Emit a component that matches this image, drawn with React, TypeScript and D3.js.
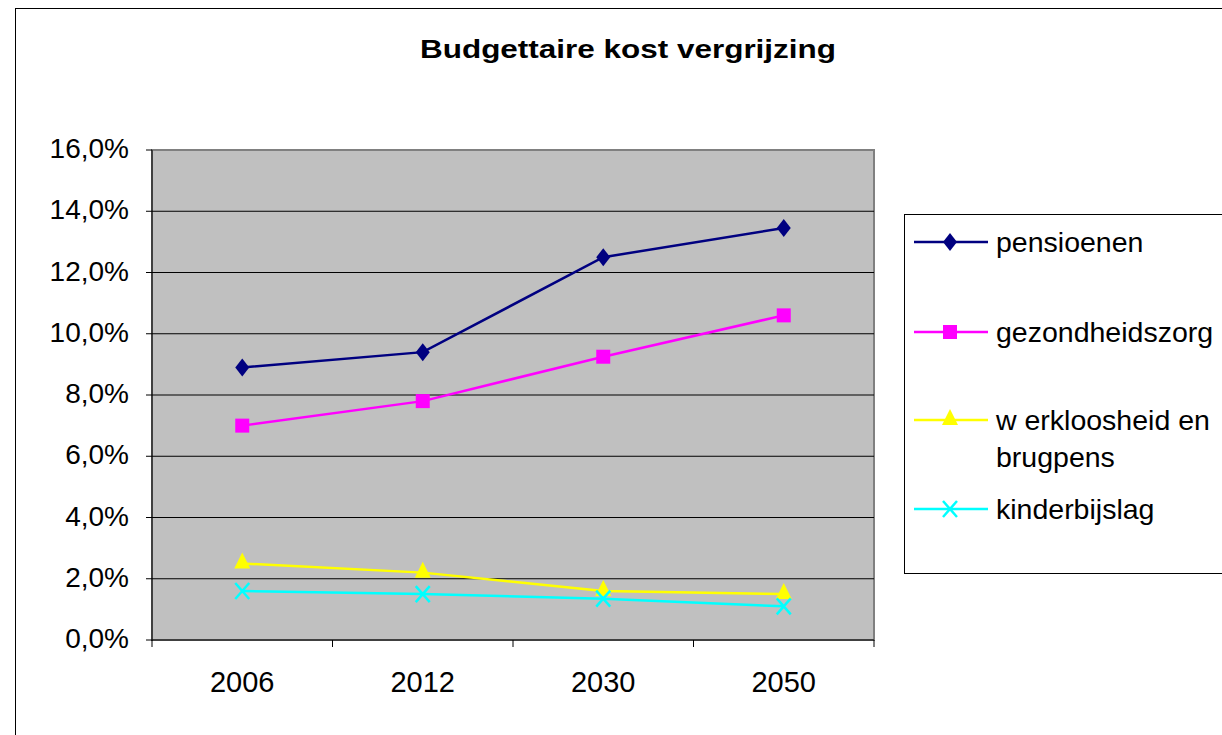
import React from 'react';
import * as d3 from 'd3';

const years = ['2006', '2012', '2030', '2050'];
const pensioenen = [8.9, 9.4, 12.5, 13.45];
const gezondheidszorg = [7.0, 7.8, 9.25, 10.6];
const werkloosheid = [2.5, 2.2, 1.6, 1.5];
const kinderbijslag = [1.6, 1.5, 1.35, 1.1];
const yTicks = [0, 2, 4, 6, 8, 10, 12, 14, 16];

const series = [
  { name: ['pensioenen'], values: pensioenen, color: '#000080', marker: 'diamond' },
  { name: ['gezondheidszorg'], values: gezondheidszorg, color: '#FF00FF', marker: 'square' },
  { name: ['w erkloosheid en', 'brugpens'], values: werkloosheid, color: '#FFFF00', marker: 'triangle' },
  { name: ['kinderbijslag'], values: kinderbijslag, color: '#00FFFF', marker: 'x' },
];

const font = 'Liberation Sans, Arial, sans-serif';

const Marker = ({ type, x, y, color }) => {
  if (type === 'diamond') {
    return <path d={`M${x},${y - 9}L${x + 7},${y}L${x},${y + 9}L${x - 7},${y}Z`} fill={color} />;
  }
  if (type === 'square') {
    return <rect x={x - 7} y={y - 7} width={14} height={14} fill={color} />;
  }
  if (type === 'triangle') {
    return <path d={`M${x},${y - 11}L${x + 8},${y + 5}L${x - 8},${y + 5}Z`} fill={color} />;
  }
  return (
    <path
      d={`M${x - 7},${y - 8}L${x + 7},${y + 8}M${x + 7},${y - 8}L${x - 7},${y + 8}`}
      stroke={color}
      strokeWidth={2.5}
      fill="none"
    />
  );
};

export default function App() {
  const left = 152, right = 874, top = 150, bottom = 640;

  const x = d3.scaleBand().domain(years).range([left, right]);
  const y = d3.scaleLinear().domain([0, 16]).range([bottom, top]);

  const line = d3
    .line<number>()
    .x((_, i) => x(years[i]) + x.bandwidth() / 2)
    .y(d => y(d));

  const legendY = [242, 332, 420, 509];

  return (
    <svg
      width={1222}
      height={735}
      style={{ position: 'absolute', left: 0, top: 0, background: '#fff' }}
      fontFamily={font}
    >
      <rect x={15.5} y={8.5} width={1240} height={760} fill="#fff" stroke="#000" strokeWidth={1} />
      <text x={628} y={58} textAnchor="middle" fontSize={26} fontWeight="bold" textLength={416} lengthAdjust="spacingAndGlyphs">
        Budgettaire kost vergrijzing
      </text>

      <rect x={left} y={top} width={right - left} height={bottom - top} fill="#C0C0C0" stroke="#808080" strokeWidth={2} />
      {yTicks.slice(1, -1).map(t => (
        <line key={t} x1={left} x2={right} y1={y(t)} y2={y(t)} stroke="#000" strokeWidth={1} />
      ))}

      <line x1={left} x2={left} y1={top} y2={bottom + 1} stroke="#000" />
      <line x1={left} x2={right} y1={bottom} y2={bottom} stroke="#000" />
      {yTicks.map(t => (
        <g key={t}>
          <line x1={left - 6} x2={left} y1={y(t)} y2={y(t)} stroke="#000" />
          <text x={129} y={y(t) + 8} textAnchor="end" fontSize={28}>
            {t.toFixed(1).replace('.', ',') + '%'}
          </text>
        </g>
      ))}
      {years.map((yr, i) => (
        <g key={yr}>
          <line x1={x(yr)} x2={x(yr)} y1={bottom} y2={bottom + 7} stroke="#000" />
          {i === years.length - 1 && (
            <line x1={right} x2={right} y1={bottom} y2={bottom + 7} stroke="#000" />
          )}
          <text x={x(yr) + x.bandwidth() / 2} y={692} textAnchor="middle" fontSize={29}>
            {yr}
          </text>
        </g>
      ))}

      {series.map(s => (
        <g key={s.name[0]}>
          <path d={line(s.values)} fill="none" stroke={s.color} strokeWidth={2.5} />
          {s.values.map((v, i) => (
            <Marker key={i} type={s.marker} x={x(years[i]) + x.bandwidth() / 2} y={y(v)} color={s.color} />
          ))}
        </g>
      ))}

      <rect x={904.5} y={214.5} width={340} height={359} fill="#fff" stroke="#000" strokeWidth={1} />
      {series.map((s, i) => (
        <g key={s.name[0]}>
          <line x1={914} x2={988} y1={legendY[i]} y2={legendY[i]} stroke={s.color} strokeWidth={2.5} />
          <Marker type={s.marker} x={950} y={legendY[i]} color={s.color} />
          {s.name.map((n, j) => (
            <text key={n} x={996} y={legendY[i] + 10 + j * 37} fontSize={28.5}>
              {n}
            </text>
          ))}
        </g>
      ))}
    </svg>
  );
}
